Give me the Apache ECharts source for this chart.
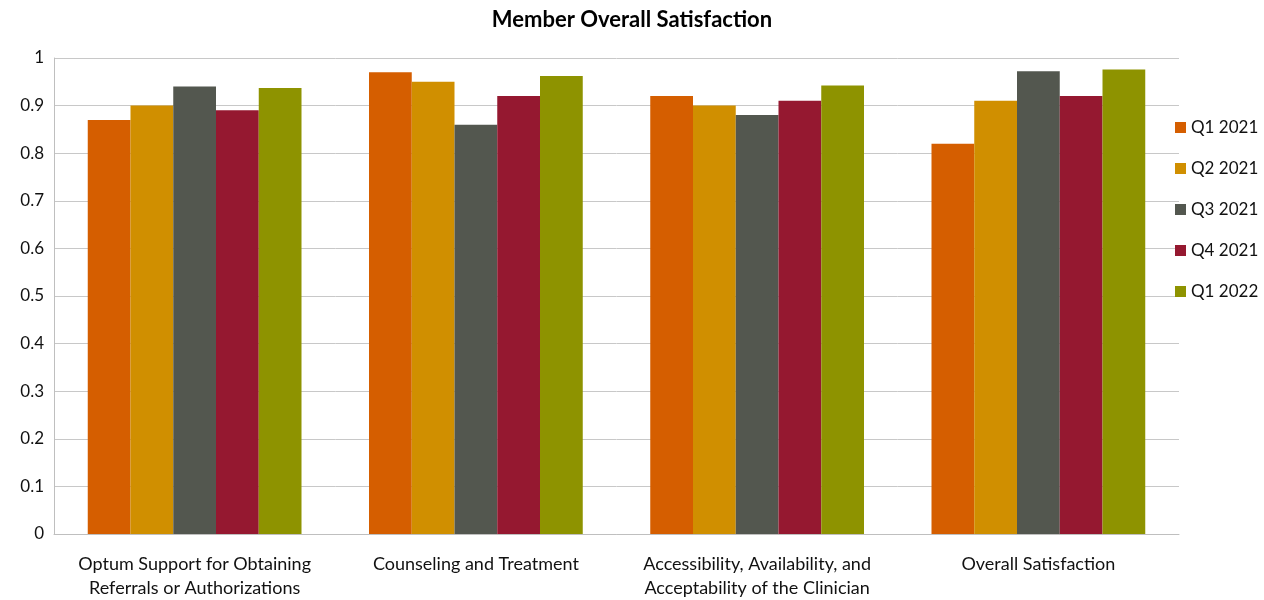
<!DOCTYPE html>
<html>
<head>
<meta charset="utf-8">
<script src="https://cdn.jsdelivr.net/npm/echarts@6/dist/echarts.min.js"></script>
<style>
  html, body { margin: 0; padding: 0; background: #fff; }
  #chart { width: 1264px; height: 600px; }
</style>
</head>
<body>
<div id="chart"></div>
<script>
  // categories on x axis
  const categories = [
    'Optum Support for Obtaining\nReferrals or Authorizations',
    'Counseling and Treatment',
    'Accessibility, Availability, and\nAcceptability of the Clinician',
    'Overall Satisfaction'
  ];
  const seriesNames = ['Q1 2021', 'Q2 2021', 'Q3 2021', 'Q4 2021', 'Q1 2022'];
  const q1_2021 = [0.87, 0.97, 0.92, 0.82];
  const q2_2021 = [0.90, 0.95, 0.90, 0.91];
  const q3_2021 = [0.94, 0.86, 0.88, 0.972];
  const q4_2021 = [0.89, 0.92, 0.91, 0.92];
  const q1_2022 = [0.937, 0.962, 0.942, 0.976];
  const colors = ['#d55e00', '#d08f00', '#53574f', '#951830', '#8e9300'];

  const chart = echarts.init(document.getElementById('chart'));
  const font = 'Lato, "Open Sans", sans-serif';
  const allData = [q1_2021, q2_2021, q3_2021, q4_2021, q1_2022];

  const option = {
    animation: false,
    title: {
      text: 'Member Overall Satisfaction',
      left: 'center',
      top: 4,
      textStyle: { fontFamily: font, fontSize: 22, fontWeight: 'bold', color: '#000' }
    },
    legend: {
      orient: 'vertical',
      left: 1170,
      top: 114,
      itemGap: 24,
      itemWidth: 11,
      itemHeight: 11,
      icon: 'rect',
      textStyle: { fontFamily: font, fontSize: 17, color: '#111' },
      data: seriesNames
    },
    grid: { left: 54, right: 85, top: 58, bottom: 58, containLabel: false },
    xAxis: {
      type: 'category',
      data: categories,
      axisTick: { show: false },
      axisLine: { lineStyle: { color: '#bfbfbf' } },
      axisLabel: { fontFamily: font, fontSize: 18, color: '#111', margin: 18, lineHeight: 24, interval: 0 }
    },
    yAxis: {
      type: 'value',
      min: 0,
      max: 1,
      interval: 0.1,
      axisLine: { show: true, lineStyle: { color: '#bfbfbf' } },
      axisTick: { show: false },
      splitLine: { lineStyle: { color: '#c8c8c8' } },
      axisLabel: {
        fontFamily: font, fontSize: 17, color: '#111', margin: 10,
        formatter: v => Math.round(v * 10) / 10
      }
    },
    series: seriesNames.map((name, i) => ({
      name: name,
      type: 'bar',
      data: allData[i],
      barGap: '0%',
      barCategoryGap: '24%',
      itemStyle: { color: colors[i] }
    }))
  };

  chart.setOption(option);
</script>
</body>
</html>
